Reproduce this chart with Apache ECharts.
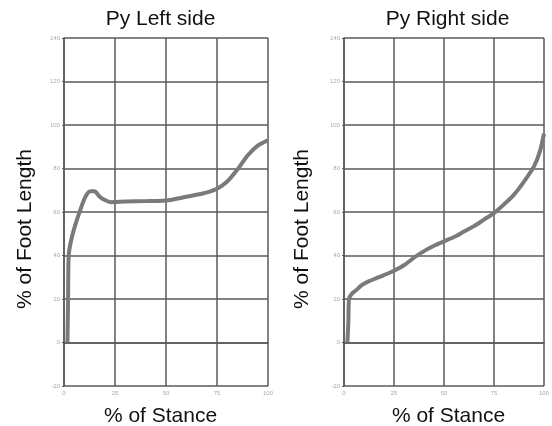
<!DOCTYPE html>
<html><head><meta charset="utf-8">
<script src="https://cdn.jsdelivr.net/npm/echarts@6/dist/echarts.min.js"></script>
<style>html,body{margin:0;padding:0;background:#fff}#c{width:552px;height:426px}</style>
</head><body><div id="c"></div>
<script>
const titles = ['Py Left side', 'Py Right side'];
const xName = '% of Stance';
const yName = '% of Foot Length';
const xTicks = [0, 25, 50, 75, 100];
const yTicks = [-20, 0, 20, 40, 60, 80, 100, 120, 140];
const leftStance = [1.7, 2.0, 2.3, 3.5, 5.5, 8, 10.5, 13, 15, 17.5, 20, 23, 30, 40, 50, 60, 68, 75, 80, 85, 90, 95, 100];
const leftFoot   = [0, 20, 40, 47, 54, 61, 67, 69.5, 69.5, 67, 65.5, 64.5, 64.8, 65, 65.3, 67, 68.5, 70.7, 74, 79.5, 86, 90.5, 93];
const rightStance = [1.7, 2.2, 2.5, 4, 6, 9, 12, 16, 20, 25, 30, 35, 40, 45, 50, 55, 60, 65, 70, 75, 80, 85, 90, 95, 98, 100];
const rightFoot   = [0, 10, 20, 22.5, 24, 26.5, 28, 29.5, 31, 33, 35.5, 39, 42, 44.5, 46.5, 48.5, 51, 53.5, 56.5, 59.5, 63.5, 68, 74, 81, 88, 96];

const chart = echarts.init(document.getElementById('c'), null, {renderer: 'canvas'});
const gridCol = '#5a5a5a';
const font = 'Liberation Sans, Arial, sans-serif';
function pairs(xs, ys){ return xs.map((x, i) => [x, ys[i]]); }
const grids = [
  {left: 64, right: 284, top: 38, bottom: 40},
  {left: 344, right: 5, top: 38, bottom: 40}
];
const xAxes = grids.map((g, i) => ({
  type: 'value', gridIndex: i, min: xTicks[0], max: xTicks[xTicks.length-1], interval: 25,
  axisLine: {show: true, lineStyle: {color: gridCol, width: 1.5}},
  axisTick: {show: false},
  splitLine: {show: true, lineStyle: {color: gridCol, width: 1.5}},
  axisLabel: {fontSize: 6, color: '#aaa', margin: 4, fontFamily: font}
}));
const yAxes = grids.map((g, i) => ({
  type: 'value', gridIndex: i, min: yTicks[0], max: yTicks[yTicks.length-1], interval: 20,
  axisLine: {show: true, lineStyle: {color: gridCol, width: 1.5}},
  axisTick: {show: true, length: 2, lineStyle: {color: gridCol}},
  splitLine: {show: true, lineStyle: {color: gridCol, width: 1.5}},
  axisLabel: {fontSize: 6, color: '#aaa', margin: 4, fontFamily: font}
}));
const series = [pairs(leftStance, leftFoot), pairs(rightStance, rightFoot)].map((d, i) => ({
  type: 'line', xAxisIndex: i, yAxisIndex: i, data: d, smooth: 0.25, symbol: 'none',
  lineStyle: {color: '#7a7a7a', width: 4}
}));
const txt = {fill: '#111', fontSize: 21, fontFamily: font, textAlign: 'center', textVerticalAlign: 'middle'};
const graphic = [
  {type: 'text', left: null, x: 160.5, y: 19.5, style: Object.assign({text: titles[0]}, txt)},
  {type: 'text', x: 447.5, y: 19.5, style: Object.assign({text: titles[1]}, txt)},
  {type: 'text', x: 160.5, y: 416, style: Object.assign({text: xName}, txt)},
  {type: 'text', x: 448.5, y: 416, style: Object.assign({text: xName}, txt)},
  {type: 'text', x: 25.5, y: 229, rotation: Math.PI/2, style: Object.assign({text: yName}, txt)},
  {type: 'text', x: 302, y: 229, rotation: Math.PI/2, style: Object.assign({text: yName}, txt)}
];
chart.setOption({
  animation: false, backgroundColor: '#fff',
  grid: grids, xAxis: xAxes, yAxis: yAxes, series: series, graphic: graphic
});
</script></body></html>
